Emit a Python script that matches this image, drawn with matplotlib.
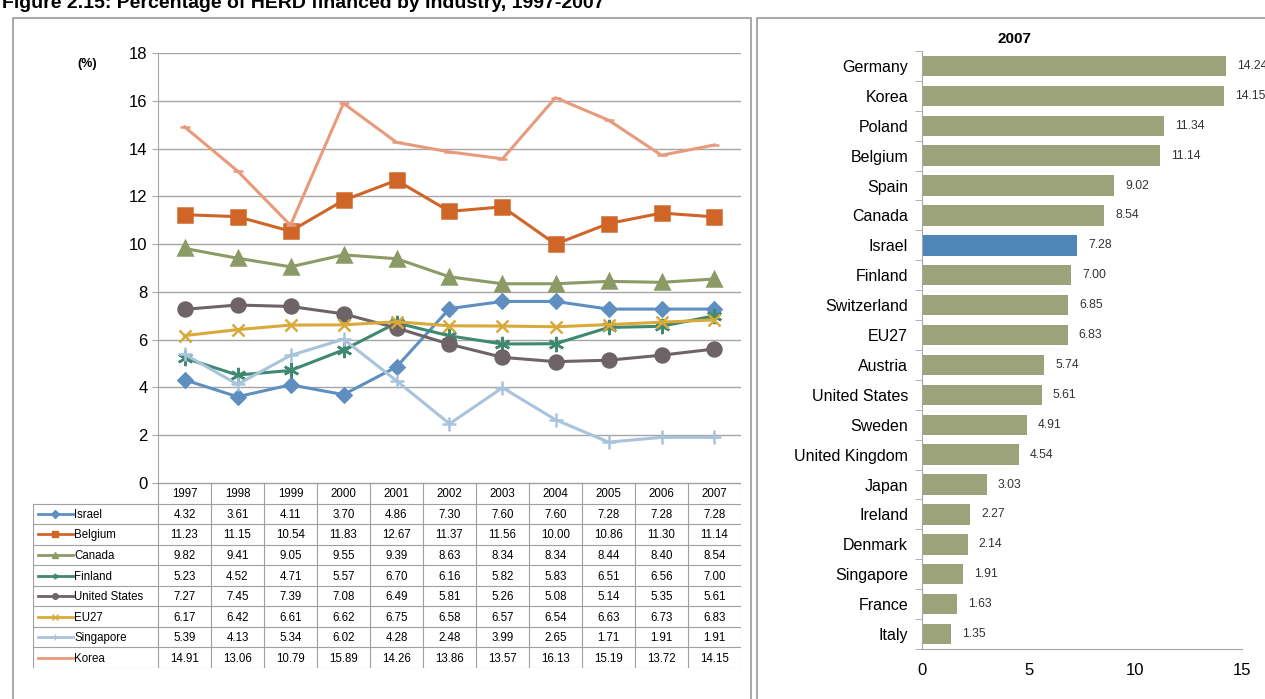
import numpy as np
import matplotlib
matplotlib.use("Agg")
import matplotlib.pyplot as plt
from matplotlib.patches import Rectangle

plt.rcParams['font.family'] = ['Liberation Sans', 'DejaVu Sans']

# ---- data: left panel (line chart + table) ----
years = ['1997', '1998', '1999', '2000', '2001', '2002', '2003', '2004', '2005', '2006', '2007']
israel = [4.32, 3.61, 4.11, 3.70, 4.86, 7.30, 7.60, 7.60, 7.28, 7.28, 7.28]
belgium = [11.23, 11.15, 10.54, 11.83, 12.67, 11.37, 11.56, 10.00, 10.86, 11.30, 11.14]
canada = [9.82, 9.41, 9.05, 9.55, 9.39, 8.63, 8.34, 8.34, 8.44, 8.40, 8.54]
finland = [5.23, 4.52, 4.71, 5.57, 6.70, 6.16, 5.82, 5.83, 6.51, 6.56, 7.00]
united_states = [7.27, 7.45, 7.39, 7.08, 6.49, 5.81, 5.26, 5.08, 5.14, 5.35, 5.61]
eu27 = [6.17, 6.42, 6.61, 6.62, 6.75, 6.58, 6.57, 6.54, 6.63, 6.73, 6.83]
singapore = [5.39, 4.13, 5.34, 6.02, 4.28, 2.48, 3.99, 2.65, 1.71, 1.91, 1.91]
korea = [14.91, 13.06, 10.79, 15.89, 14.26, 13.86, 13.57, 16.13, 15.19, 13.72, 14.15]

series_names = ['Israel', 'Belgium', 'Canada', 'Finland', 'United States', 'EU27', 'Singapore', 'Korea']
series_values = [israel, belgium, canada, finland, united_states, eu27, singapore, korea]

# ---- data: right panel (2007 bars) ----
countries = ['Germany', 'Korea', 'Poland', 'Belgium', 'Spain', 'Canada', 'Israel', 'Finland',
             'Switzerland', 'EU27', 'Austria', 'United States', 'Sweden', 'United Kingdom',
             'Japan', 'Ireland', 'Denmark', 'Singapore', 'France', 'Italy']
values_2007 = [14.24, 14.15, 11.34, 11.14, 9.02, 8.54, 7.28, 7.00, 6.85, 6.83, 5.74, 5.61,
               4.91, 4.54, 3.03, 2.27, 2.14, 1.91, 1.63, 1.35]

# styles per series
styles = {
    'Israel':        dict(color='#5F8FC0', marker='D', ms=7.5),
    'Belgium':       dict(color='#D06528', marker='s', ms=10),
    'Canada':        dict(color='#8C9A66', marker='^', ms=10),
    'Finland':       dict(color='#3F8872', marker=(6, 2, 0), ms=11),
    'United States': dict(color='#6E6468', marker='o', ms=10),
    'EU27':          dict(color='#D8AA3A', marker='x', ms=9),
    'Singapore':     dict(color='#A9C3DD', marker='+', ms=10),
    'Korea':         dict(color='#E89A7C', marker='_', ms=7),
}

W, H = 1265, 699
fig = plt.figure(figsize=(W / 100, H / 100), dpi=100)


def px_axes(left, top, right, bottom):
    return fig.add_axes([left / W, 1 - bottom / H, (right - left) / W, (bottom - top) / H])


grid_col = '#A6A6A6'

# panel frames
fig.patches.append(Rectangle((13 / W, -0.01), (751 - 13) / W, 1 - 18 / H + 0.01,
                             transform=fig.transFigure, fill=False, ec='#9A9A9A', lw=1.2))
fig.patches.append(Rectangle((757 / W, -0.01), (W + 5 - 757) / W, 1 - 18 / H + 0.01,
                             transform=fig.transFigure, fill=False, ec='#9A9A9A', lw=1.2))

# title (partially cut off at the top, as in the original)
fig.text(2 / W, 1 - 8 / H, 'Figure 2.15: Percentage of HERD financed by Industry, 1997-2007',
         fontsize=14, fontweight='bold', va='baseline', ha='left')

# ---- line chart ----
ax = px_axes(158, 53, 741, 483)
x = np.arange(len(years))
for name, vals in zip(series_names, series_values):
    st = styles[name]
    ax.plot(x, vals, color=st['color'], lw=2.2, marker=st['marker'], ms=st['ms'],
            mec=st['color'], mfc=st['color'], mew=1.8, zorder=3)
ax.set_xlim(-0.5, 10.5)
ax.set_ylim(0, 18)
ax.set_yticks(range(0, 19, 2))
ax.yaxis.grid(True, color=grid_col, lw=1)
ax.set_axisbelow(True)
ax.set_xticks([])
for s in ['top', 'right', 'bottom']:
    ax.spines[s].set_visible(False)
ax.spines['left'].set_color(grid_col)
ax.tick_params(axis='y', length=4, color=grid_col, labelsize=12, pad=3.5)
fig.text(77 / W, 1 - 64 / H, '(%)', fontsize=9, fontweight='bold', ha='left', va='center')

# ---- data table under the line chart ----
tx0 = -0.5 - (158 - 33) / 53.0
tab = px_axes(33, 483, 741, 668)
tab.set_xlim(tx0, 10.5)
tab.set_ylim(9, 0)
tab.axis('off')
lc = '#A0A0A0'
tab.plot([-0.5, 10.5], [0, 0], color=lc, lw=1)
for r in range(1, 10):
    tab.plot([tx0, 10.5], [r, r], color=lc, lw=0.8)
for k in range(12):
    tab.plot([-0.5 + k, -0.5 + k], [0, 9], color=lc, lw=0.8)
tab.plot([tx0, tx0], [1, 9], color=lc, lw=0.8)
for i, yr in enumerate(years):
    tab.text(i, 0.55, yr, ha='center', va='center', fontsize=8.3)
for r, (name, vals) in enumerate(zip(series_names, series_values), start=1):
    st = styles[name]
    tab.plot([tx0 + 0.09, tx0 + 0.75], [r + 0.5, r + 0.5], color=st['color'], lw=2)
    tab.plot([tx0 + 0.42], [r + 0.5], color=st['color'], marker=st['marker'], ms=4,
             mew=1, mec=st['color'])
    tab.text(tx0 + 0.78, r + 0.55, name, ha='left', va='center', fontsize=8.3)
    for i, v in enumerate(vals):
        tab.text(i, r + 0.55, f'{v:.2f}', ha='center', va='center', fontsize=8.3)

# ---- bar chart (2007) ----
bx = px_axes(922, 51, 1242, 649)
pos = np.arange(len(countries))
colors = ['#4F86B8' if c == 'Israel' else '#9CA37A' for c in countries]
bx.barh(pos, values_2007, height=0.68, color=colors)
for p, v in zip(pos, values_2007):
    bx.annotate(f'{v:.2f}', (v, p), xytext=(8, 0), textcoords='offset points',
                ha='left', va='center', fontsize=8.8, color='#333333', annotation_clip=False)
bx.set_xlim(0, 15)
bx.set_ylim(19.5, -0.5)
bx.set_yticks(pos)
bx.set_yticklabels(countries, fontsize=11.5)
bx.set_yticks(np.arange(-0.5, 20, 1), minor=True)
bx.tick_params(axis='y', which='major', length=0, pad=10)
bx.tick_params(axis='y', which='minor', length=5, color=grid_col)
bx.set_xticks([0, 5, 10, 15])
bx.tick_params(axis='x', length=0, labelsize=12, pad=10)
for s in ['top', 'right']:
    bx.spines[s].set_visible(False)
bx.spines['left'].set_color(grid_col)
bx.spines['bottom'].set_color(grid_col)
bx.set_title('2007', fontsize=11, fontweight='bold', pad=6, x=0.29)

fig.savefig('out.png', dpi=100)
